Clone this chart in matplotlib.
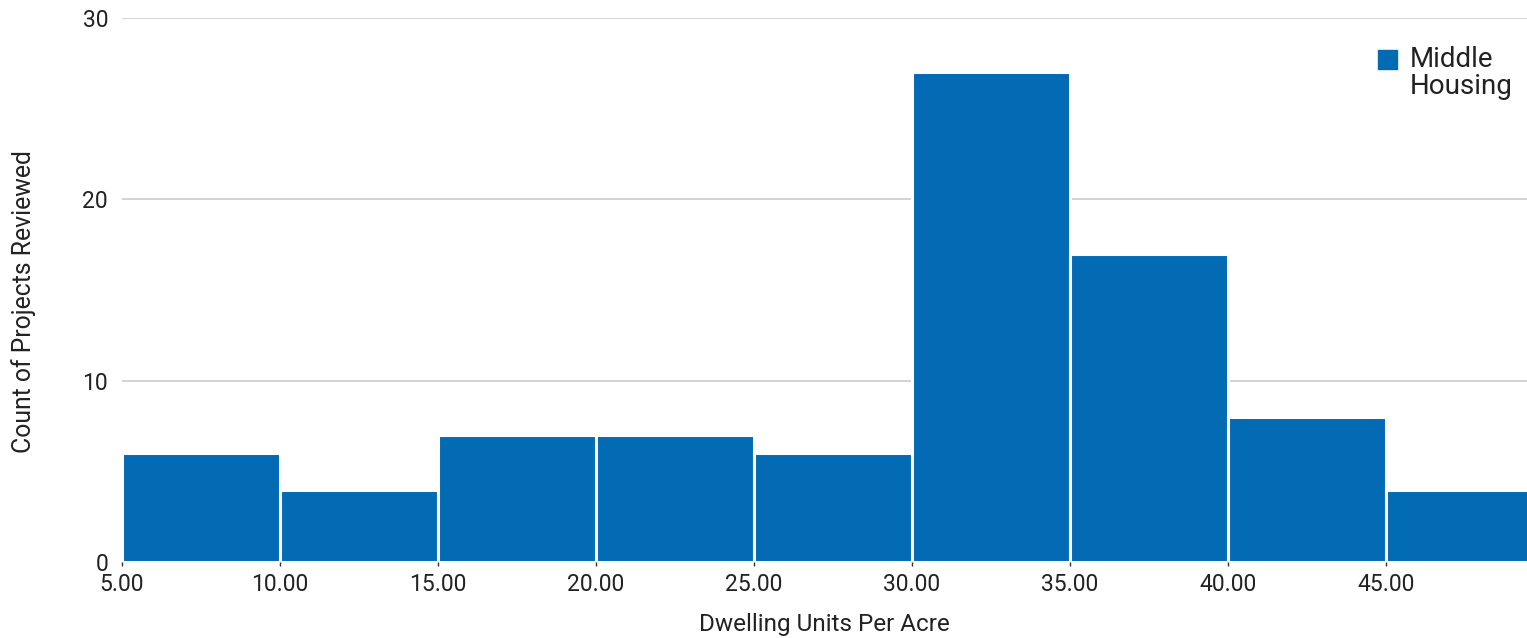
import matplotlib.pyplot as plt
from matplotlib.patches import Rectangle

# Данные
bin_starts = [5, 10, 15, 20, 25, 30, 35, 40, 45]
counts = [6, 4, 7, 7, 6, 27, 17, 8, 4]
xticks = [5, 10, 15, 20, 25, 30, 35, 40, 45]
yticks = [0, 10, 20, 30]

plt.rcParams['font.family'] = ['Roboto', 'DejaVu Sans']
bar_color = '#036ab4'

fig = plt.figure(figsize=(15.27, 6.38), dpi=100)
ax = fig.add_axes([0.0799, 0.119, 0.9201, 0.853])

ax.bar(bin_starts, counts, width=5, align='edge', color=bar_color,
       edgecolor='white', linewidth=2.2, zorder=3)

ax.set_xlim(5, 49.46)
ax.set_ylim(0, 30)
ax.set_xticks(xticks)
ax.set_xticklabels([f'{v:.2f}' for v in xticks], fontsize=16.5, color='#222222')
ax.set_yticks(yticks)
ax.set_yticklabels([str(v) for v in yticks], fontsize=16.5, color='#222222')
ax.tick_params(axis='y', length=0, pad=10)
ax.tick_params(axis='x', length=3, width=1, color='#333333', pad=5)

ax.grid(axis='y', color='#cccccc', linewidth=1.2, zorder=0)
for s in ax.spines.values():
    s.set_visible(False)

ax.set_xlabel('Dwelling Units Per Acre', fontsize=17.5, color='#222222', labelpad=12)
ax.set_ylabel('Count of Projects Reviewed', fontsize=17.8, color='#222222')
ax.yaxis.set_label_coords(-0.061, 0.478)

# легенда
W, H = 1527, 638
fig.add_artist(Rectangle((1378 / W, 1 - 69 / H), 19 / W, 19 / H,
                         transform=fig.transFigure, color=bar_color))
fig.text(1410 / W, 1 - 46 / H, 'Middle\nHousing', fontsize=20, color='#222222',
         va='top', ha='left', linespacing=1.0)

plt.savefig('out.png', dpi=100)
